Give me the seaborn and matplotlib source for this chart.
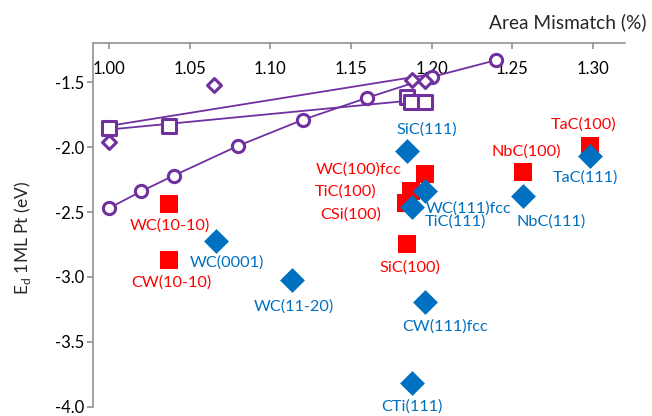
import matplotlib
matplotlib.use("Agg")
import matplotlib.pyplot as plt
import seaborn as sns

# purple reference series
circle_x = [1.00, 1.02, 1.04, 1.08, 1.12, 1.16, 1.20, 1.24]
circle_y = [-2.47, -2.34, -2.22, -1.99, -1.79, -1.62, -1.46, -1.33]
square_x = [1.00, 1.037, 1.185, 1.187, 1.196]
square_y = [-1.85, -1.84, -1.61, -1.65, -1.65]
diamond_x = [1.00, 1.065, 1.188, 1.196]
diamond_y = [-1.96, -1.52, -1.48, -1.49]

# (100) surfaces, red
red_labels = ["WC(10-10)", "CW(10-10)", "WC(100)fcc", "TiC(100)", "CSi(100)",
              "SiC(100)", "NbC(100)", "TaC(100)"]
red_x = [1.037, 1.037, 1.196, 1.187, 1.184, 1.185, 1.257, 1.298]
red_y = [-2.44, -2.87, -2.21, -2.34, -2.43, -2.75, -2.19, -1.99]

# (111) surfaces, blue
blue_labels = ["WC(0001)", "WC(11-20)", "SiC(111)", "WC(111)fcc", "TiC(111)",
               "NbC(111)", "TaC(111)", "CW(111)fcc", "CTi(111)"]
blue_x = [1.066, 1.1135, 1.185, 1.196, 1.188, 1.257, 1.298, 1.196, 1.188]
blue_y = [-2.72, -3.02, -2.03, -2.34, -2.46, -2.38, -2.07, -3.19, -3.82]

x_ticks = [1.00, 1.05, 1.10, 1.15, 1.20, 1.25, 1.30]
y_ticks = [-4.0, -3.5, -3.0, -2.5, -2.0, -1.5]

# label offsets from the marker, in pixels (dx right, dy up)
red_offsets = [(1, -21), (3, -23), (-66, 5), (-65, 0), (-55, -12), (3, -23), (3, 20), (-6, 21)]
blue_offsets = [(11, -22), (2, -27), (19, 21), (44, -17), (43, -15), (28, -25), (-4, -21),
                (20, -25), (0, -23)]

PURPLE = "#7030A0"
RED = "#FF0000"
BLUE = "#0070C0"
GRAY = "#898989"

sns.set_style("white")
plt.rcParams["font.family"] = ["Lato", "DejaVu Sans"]
plt.rcParams["mathtext.fontset"] = "custom"
plt.rcParams["mathtext.rm"] = "Lato"

fig = plt.figure(figsize=(6.52, 4.16), dpi=100)
ax = fig.add_axes([0.1426, 0.0224, 0.816, 0.8735])

# trend lines for squares and diamonds
sns.regplot(x=square_x, y=square_y, scatter=False, ci=None, truncate=True,
            color=PURPLE, line_kws={"lw": 1.3}, ax=ax)
sns.regplot(x=diamond_x, y=diamond_y, scatter=False, ci=None, truncate=True,
            color=PURPLE, line_kws={"lw": 1.3}, ax=ax)
sns.lineplot(x=circle_x, y=circle_y, color=PURPLE, lw=1.3, marker="o", ms=8.8,
             mfc="white", mec=PURPLE, mew=2.2, ax=ax)
sns.scatterplot(x=square_x, y=square_y, marker="s", s=90, facecolor="white",
                edgecolor=PURPLE, linewidth=2.2, ax=ax, zorder=3)
sns.scatterplot(x=diamond_x, y=diamond_y, marker="D", s=50, facecolor="white",
                edgecolor=PURPLE, linewidth=2.2, ax=ax, zorder=3)

sns.scatterplot(x=red_x, y=red_y, marker="s", s=185, color=RED, linewidth=0,
                ax=ax, zorder=4)
sns.scatterplot(x=blue_x, y=blue_y, marker="D", s=160, color=BLUE, linewidth=0,
                ax=ax, zorder=5)

for lab, x, y, off in zip(red_labels, red_x, red_y, red_offsets):
    ax.annotate(lab, (x, y), xytext=off, textcoords="offset pixels", ha="center",
                va="center", color=RED, fontsize=11.7, zorder=6)
for lab, x, y, off in zip(blue_labels, blue_x, blue_y, blue_offsets):
    ax.annotate(lab, (x, y), xytext=off, textcoords="offset pixels", ha="center",
                va="center", color=BLUE, fontsize=11.7, zorder=6, annotation_clip=False)

ax.set_xlim(0.99, 1.32)
ax.set_ylim(-4.0, -1.2)
ax.set_xticks(x_ticks)
ax.set_xticklabels([f"{v:.2f}" for v in x_ticks])
ax.set_yticks(y_ticks)
ax.set_yticklabels([f"{v:.1f}" for v in y_ticks])

for side in ["right", "bottom"]:
    ax.spines[side].set_visible(False)
for side in ["left", "top"]:
    ax.spines[side].set_color(GRAY)
    ax.spines[side].set_linewidth(1.1)

ax.tick_params(axis="x", top=True, bottom=False, labeltop=True, labelbottom=False,
               direction="in", length=4, width=1.1, color=GRAY, pad=-24,
               labelsize=12, labelcolor="black")
ax.tick_params(axis="y", left=True, direction="out", length=4, width=1.1, color=GRAY,
               pad=2, labelsize=12, labelcolor="black")

ax.xaxis.set_label_position("top")
ax.set_xlabel("Area Mismatch (%)", fontsize=13.8)
ax.xaxis.set_label_coords(1.041, 1.058)
ax.xaxis.label.set_ha("right")
ax.xaxis.label.set_va("center")

ax.set_ylabel(r"E$_\mathrm{d}$ 1ML Pt (eV)", fontsize=12.5)
ax.yaxis.set_label_coords(-0.113, 0.464)

fig.savefig("out.png", dpi=100)
